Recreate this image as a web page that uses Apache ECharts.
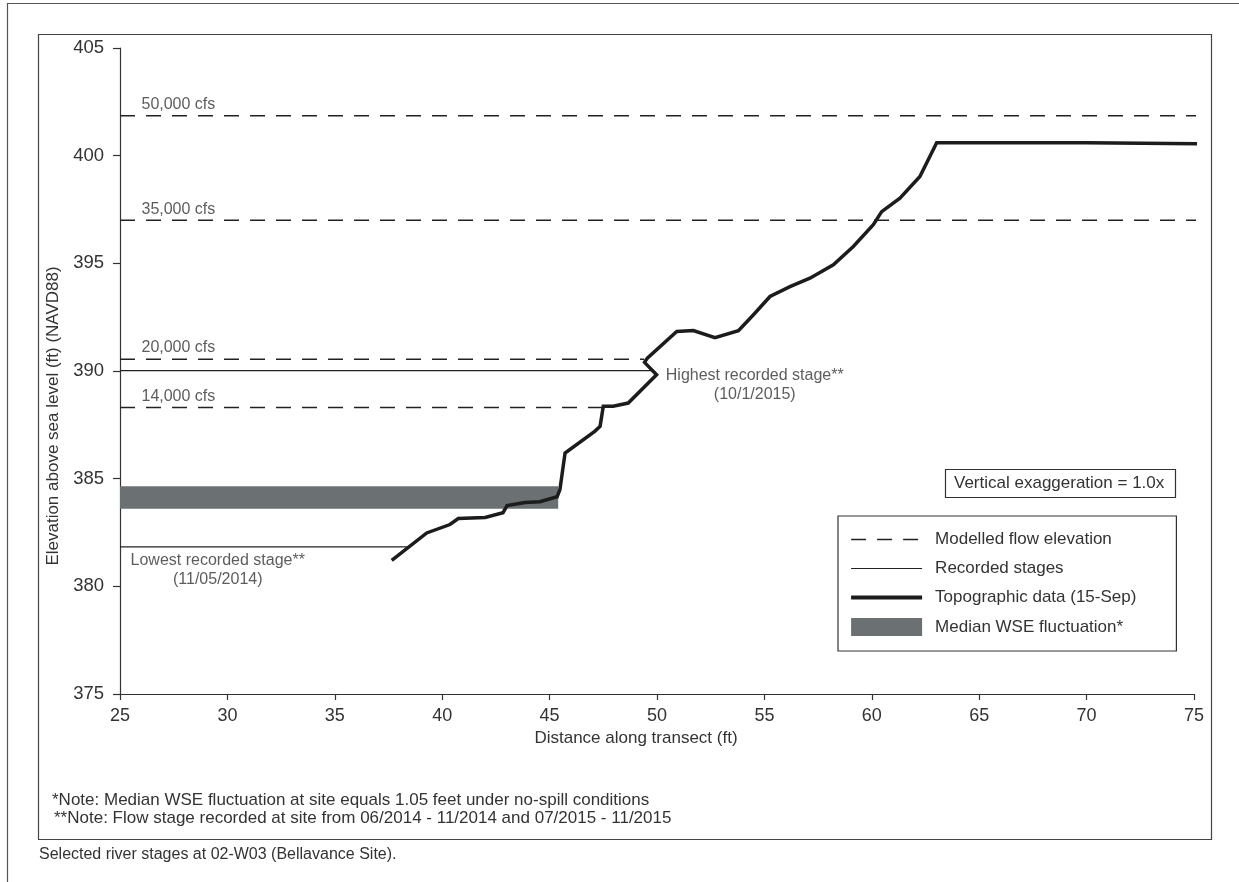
<!DOCTYPE html>
<html>
<head>
<meta charset="utf-8">
<script src="https://cdn.jsdelivr.net/npm/echarts@6/dist/echarts.min.js"></script>
<style>
html,body{margin:0;padding:0;background:#fff;}
#chart{width:1239px;height:882px;}
</style>
</head>
<body>
<div id="chart"></div>
<script>
// ---------------- data ----------------
const xTicks = [25, 75, 5];           // min, max, interval
const yTicks = [375, 405, 5];

// Topographic profile (15-Sep)
const topoX = [37.65, 39.28, 40.36, 40.75, 42.0, 42.83, 43.02, 43.85, 44.55, 45.35, 45.48, 45.72, 47.1, 47.35, 47.5, 47.96, 48.66, 49.98, 49.42, 49.55, 50.92, 51.69, 52.7, 53.79, 54.48, 55.26, 56.19, 57.12, 58.21, 59.14, 60.07, 60.46, 61.31, 62.24, 63.02, 70.0, 75.75];
const topoY = [381.2, 382.48, 382.87, 383.15, 383.2, 383.42, 383.75, 383.89, 383.93, 384.16, 384.49, 386.19, 387.2, 387.43, 388.36, 388.36, 388.51, 389.83, 390.4, 390.6, 391.84, 391.88, 391.55, 391.87, 392.6, 393.46, 393.92, 394.31, 394.93, 395.78, 396.79, 397.4, 398.03, 399.03, 400.6, 400.6, 400.55];

// Modelled flow elevations
const flowNames = ['50,000 cfs', '35,000 cfs', '20,000 cfs', '14,000 cfs'];
const flowElev  = [401.85, 397.0, 390.55, 388.3];
const flowStart = [25, 25, 25, 25];
const flowEnd   = [75.7, 75.7, 49.4, 47.5];
const flowLabelX = [26.0, 26.0, 26.0, 26.0];
const flowLabelY = [402.35, 397.5, 391.1, 388.82];

// Recorded stages
const stageNames = ['Highest recorded stage**\n(10/1/2015)', 'Lowest recorded stage**\n(11/05/2014)'];
const stageElev  = [390.02, 381.83];
const stageStart = [25, 25];
const stageEnd   = [49.78, 38.45];
const stageLabelX = [54.55, 29.55];
const stageLabelY = [389.35, 380.75];

// Median WSE fluctuation band [x0, x1, yLow, yHigh]
const bandX = [25, 45.4];
const bandY = [383.6, 384.65];

const legendNames = ['Modelled flow elevation', 'Recorded stages', 'Topographic data (15-Sep)', 'Median WSE fluctuation*'];
const notes = ['*Note: Median WSE fluctuation at site equals 1.05 feet under no-spill conditions',
               '**Note: Flow stage recorded at site from 06/2014 - 11/2014 and 07/2015 - 11/2015'];
const caption = 'Selected river stages at 02-W03 (Bellavance Site).';
const xName = 'Distance along transect (ft)';
const yName = 'Elevation above sea level (ft) (NAVD88)';
const vexText = 'Vertical exaggeration = 1.0x';

// ---------------- chart ----------------
const FONT = '"Liberation Sans", Arial, sans-serif';
const chart = echarts.init(document.getElementById('chart'), null, {renderer: 'canvas'});

const series = [];
// band
series.push({
  name: legendNames[3],
  type: 'custom',
  clip: false,
  itemStyle: {color: '#6b7073'},
  data: [[bandX[0], bandX[1], bandY[0], bandY[1]]],
  renderItem: function (params, api) {
    const p0 = api.coord([api.value(0), api.value(3)]);
    const p1 = api.coord([api.value(1), api.value(2)]);
    return {type: 'rect', shape: {x: p0[0], y: p0[1], width: p1[0] - p0[0], height: p1[1] - p0[1]},
            style: {fill: '#6b7073'}};
  },
  z: 1
});
// modelled flows
flowNames.forEach(function (n, i) {
  series.push({
    name: legendNames[0], type: 'line', symbol: 'none', clip: false, silent: true,
    lineStyle: {color: '#222', width: 1.5, type: [15, 11]},
    itemStyle: {color: '#222'},
    data: [[flowStart[i], flowElev[i]], [flowEnd[i], flowElev[i]]],
    z: 2
  });
});
// recorded stages
stageNames.forEach(function (n, i) {
  series.push({
    name: legendNames[1], type: 'line', symbol: 'none', clip: false, silent: true,
    lineStyle: {color: '#222', width: 1.3},
    itemStyle: {color: '#222'},
    data: [[stageStart[i], stageElev[i]], [stageEnd[i], stageElev[i]]],
    z: 2
  });
});
// topographic
series.push({
  name: legendNames[2], type: 'line', symbol: 'none', clip: false, silent: true,
  lineStyle: {color: '#1c1c1c', width: 3.5, join: 'miter'},
  itemStyle: {color: '#1c1c1c'},
  data: topoX.map(function (x, i) { return [x, topoY[i]]; }),
  z: 3
});
// annotations
const annData = [];
flowNames.forEach(function (n, i) {
  annData.push({value: [flowLabelX[i], flowLabelY[i]], label: {formatter: n, align: 'left'}});
});
stageNames.forEach(function (n, i) {
  annData.push({value: [stageLabelX[i], stageLabelY[i]], label: {formatter: n, align: 'center'}});
});
series.push({
  type: 'scatter', symbolSize: 0, silent: true, clip: false,
  label: {show: true, position: 'inside', verticalAlign: 'middle', color: '#333',
          fontFamily: FONT, fontSize: 16, lineHeight: 19},
  data: annData, z: 4
});

const option = {
  backgroundColor: '#fff',
  animation: false,
  textStyle: {fontFamily: FONT},
  title: [
    {text: vexText, left: 945, top: 469, padding: [4, 11, 4, 9], borderColor: '#333', borderWidth: 1.2,
     textStyle: {fontFamily: FONT, fontSize: 17, fontWeight: 'normal', color: '#333', lineHeight: 21}},
    {text: notes[0], left: 52, top: 790, padding: 0,
     textStyle: {fontFamily: FONT, fontSize: 17, fontWeight: 'normal', color: '#333', lineHeight: 20}},
    {text: notes[1], left: 54, top: 808, padding: 0,
     textStyle: {fontFamily: FONT, fontSize: 17, fontWeight: 'normal', color: '#333', lineHeight: 20}},
    {text: caption, left: 39, top: 845, padding: 0,
     textStyle: {fontFamily: FONT, fontSize: 16, fontWeight: 'normal', color: '#333', lineHeight: 19}}
  ],
  legend: {
    orient: 'vertical', left: 838, top: 516,
    padding: [15, 40, 15, 11],
    borderColor: '#333', borderWidth: 1.2,
    itemWidth: 71, itemHeight: 18, itemGap: 12,
    itemStyle: {opacity: 0},
    textStyle: {fontFamily: FONT, fontSize: 17, color: '#333', padding: [0, 0, 0, 8]},
    data: [
      {name: legendNames[0], lineStyle: {width: 1.5, type: [15, 11], color: '#222'}},
      {name: legendNames[1], lineStyle: {width: 1.2, color: '#222'}},
      {name: legendNames[2], lineStyle: {width: 4.2, color: '#1c1c1c'}},
      {name: legendNames[3], icon: 'rect', itemStyle: {opacity: 1, color: '#6b7073'}}
    ],
    selectedMode: false
  },
  grid: {left: 120, right: 45, top: 48, bottom: 188, containLabel: false},
  xAxis: {
    type: 'value', min: xTicks[0], max: xTicks[1], interval: xTicks[2],
    name: xName, nameLocation: 'middle', nameGap: 36,
    nameTextStyle: {fontFamily: FONT, fontSize: 17, color: '#333', padding: [0, 42, 0, 0]},
    axisLine: {show: true, onZero: false, lineStyle: {color: '#333', width: 1.2}},
    axisTick: {show: true, length: 6, lineStyle: {color: '#333', width: 1.2}},
    axisLabel: {fontFamily: FONT, fontSize: 18, color: '#333', margin: 13},
    splitLine: {show: false}
  },
  yAxis: {
    type: 'value', min: yTicks[0], max: yTicks[1], interval: yTicks[2],
    name: yName, nameLocation: 'middle', nameGap: 57, nameRotate: 90,
    nameTextStyle: {fontFamily: FONT, fontSize: 17, color: '#333', padding: [0, 90, 0, 0]},
    axisLine: {show: true, onZero: false, lineStyle: {color: '#333', width: 1.2}},
    axisTick: {show: true, length: 7, lineStyle: {color: '#333', width: 1.2}},
    axisLabel: {fontFamily: FONT, fontSize: 18.5, color: '#333', margin: 16},
    splitLine: {show: false}
  },
  graphic: [
    {type: 'rect', silent: true, z: -10, shape: {x: 7.5, y: 3.5, width: 1260, height: 920},
     style: {fill: 'none', stroke: '#555', lineWidth: 1.2}},
    {type: 'rect', silent: true, z: -10, shape: {x: 38.5, y: 34.5, width: 1173, height: 805},
     style: {fill: 'none', stroke: '#444', lineWidth: 1.2}}
  ],
  series: series
};
chart.setOption(option);
</script>
</body>
</html>
